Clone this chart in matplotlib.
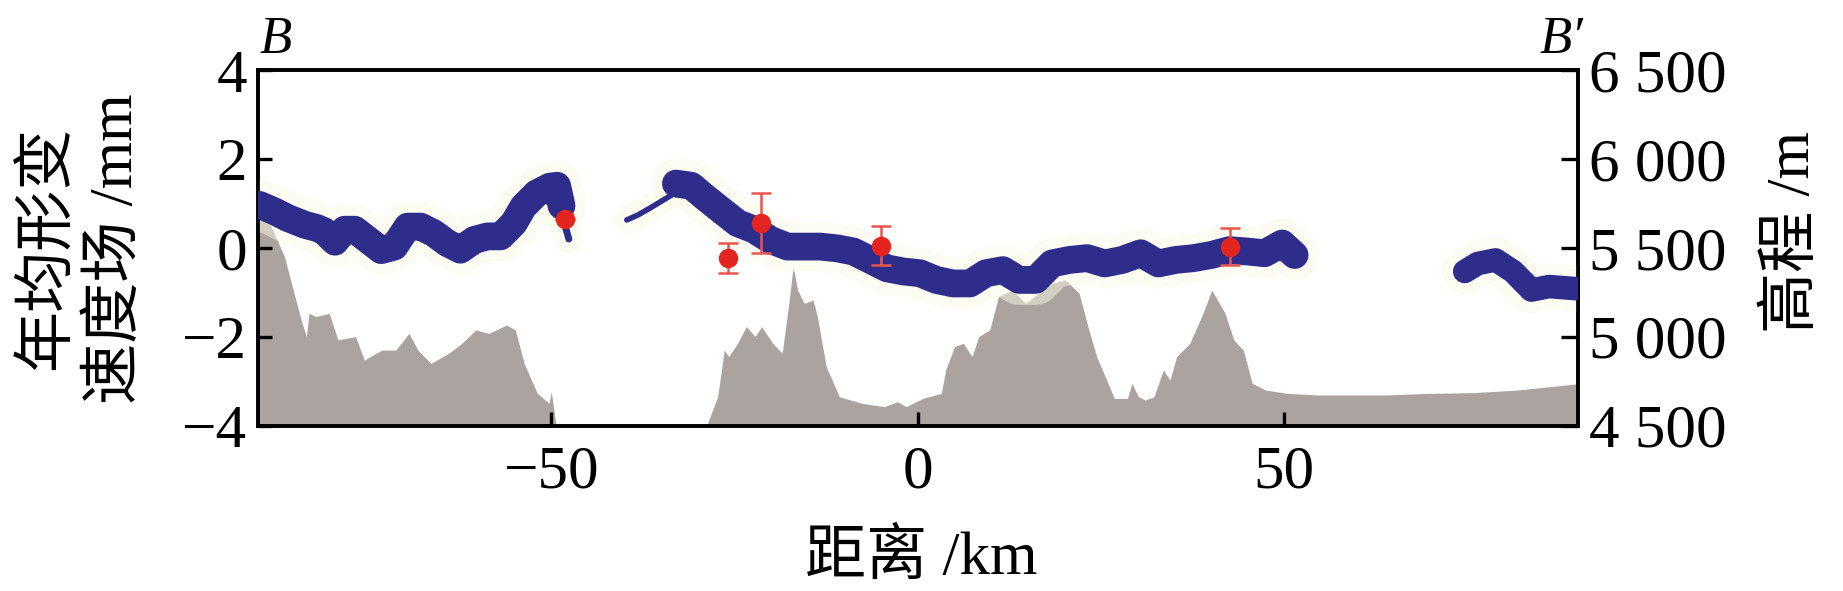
import matplotlib
matplotlib.use("Agg")
import matplotlib.pyplot as plt
import numpy as np

# ---------------- data ----------------
# elevation profile (distance km, elevation m)
elev_x = [-90.0, -88.8, -87.6, -86.4, -85.2, -84.0, -83.4, -83.05, -82.1, -80.3, -79.1, -76.7,
          -75.5, -73.1, -71.2, -69.4, -68.2, -66.4, -64.0, -62.2, -60.3, -58.5, -56.1, -54.9,
          -53.7, -51.9, -50.3, -50.0, -49.4, -49.0, -28.8, -27.3, -26.4, -25.8, -24.6, -23.4,
          -22.2, -21.3, -19.8, -18.5, -17.6, -17.0, -16.4, -15.5, -14.3, -13.7, -12.5, -10.7,
          -7.6, -4.6, -2.8, -1.6, 0.7, 3.2, 3.8, 5.0, 6.2, 7.4, 8.3, 9.8, 11.0, 12.9, 14.7,
          15.9, 18.3, 20.1, 22.0, 23.2, 24.4, 26.8, 28.6, 29.2, 30.1, 31.0, 32.2, 33.5, 34.4,
          35.3, 37.1, 38.9, 40.1, 41.9, 43.1, 44.4, 45.6, 47.4, 50.4, 54.6, 63.7, 69.8, 75.8,
          81.9, 90.0]
elev_m = [5690, 5677, 5564, 5451, 5263, 5076, 5001, 5132, 5113, 5132, 4982, 5001,
          4869, 4925, 4925, 5019, 4925, 4850, 4907, 4963, 5038, 5019, 5066, 5038,
          4850, 4681, 4625, 4691, 4516, 4500, 4500, 4662, 4925, 4888, 4963, 5057,
          5001, 5057, 4963, 4907, 5188, 5395, 5263, 5188, 5207, 5113, 4832, 4662,
          4625, 4606, 4634, 4606, 4653, 4681, 4813, 4944, 4963, 4888, 5001, 5038, 5226, 5263, 5188,
          5226, 5301, 5320, 5245, 5057, 4888, 4653, 4653, 4738, 4662, 4644, 4662, 4813, 4756,
          4888, 4963, 5132, 5263, 5132, 4982, 4925, 4738, 4700, 4681, 4672, 4672, 4681, 4685,
          4700, 4735]

# annual deformation velocity (mm) along the profile, separate segments
seg1_x = [-89.8, -87.7, -85.9, -83.6, -82.0, -81.0, -79.5, -78.2, -76.8, -75.0, -73.2, -71.4,
          -69.6, -67.8, -66.0, -64.2, -62.4, -60.5, -58.7, -56.9, -55.1, -53.8, -52.0, -50.2,
          -49.2, -48.6]
seg1_v = [0.97, 0.82, 0.67, 0.52, 0.45, 0.38, 0.14, 0.41, 0.41, 0.18, -0.05, 0.03,
          0.48, 0.48, 0.33, 0.11, -0.04, 0.18, 0.26, 0.26, 0.56, 0.93, 1.23, 1.38,
          1.40, 0.95]
tail_x = [-48.8, -48.2, -47.6]
tail_v = [0.95, 0.55, 0.20]
seg2_x = [-39.7, -38.2, -36.5, -35.0, -33.6]
seg2_v = [0.63, 0.74, 0.90, 1.05, 1.19]
seg3_x = [-33.0, -30.9, -29.1, -26.9, -24.6, -22.3, -20.1, -17.8, -15.6, -13.3, -11.0, -8.8,
          -6.5, -4.2, -2.0, 0.3, 2.5, 4.8, 7.1, 9.3, 11.6, 13.8, 16.1, 18.3, 20.7, 23.1,
          25.5, 27.9, 30.4, 32.8, 35.2, 37.6, 40.0, 42.5, 44.9, 47.3, 49.7, 51.4]
seg3_v = [1.45, 1.40, 1.15, 0.86, 0.56, 0.41, 0.18, 0.03, 0.03, 0.03, -0.01, -0.08,
          -0.27, -0.46, -0.53, -0.57, -0.72, -0.80, -0.80, -0.57, -0.50, -0.72, -0.72, -0.35, -0.27, -0.23,
          -0.35, -0.27, -0.12, -0.35, -0.27, -0.23, -0.16, -0.05, -0.08, -0.12, 0.10, -0.16]
seg4_x = [74.6, 76.4, 78.8, 81.2, 83.7, 86.1, 90.0]
seg4_v = [-0.53, -0.35, -0.27, -0.53, -0.95, -0.87, -0.92]

# leveling / GNSS check points with error bars
pt_x = [-48.1, -25.9, -21.4, -5.0, 42.6]
pt_v = [0.65, -0.23, 0.56, 0.05, 0.03]
pt_err = [0.0, 0.33, 0.68, 0.44, 0.41]

x_ticks = [-50, 0, 50]
v_ticks = [-4, -2, 0, 2, 4]
elev_ticks = [4500, 5000, 5500, 6000, 6500]
elev_tick_labels = ["4 500", "5 000", "5 500", "6 000", "6 500"]

# ---------------- plot ----------------
SERIF = ["Liberation Serif", "Noto Sans CJK SC"]
plt.rcParams["font.family"] = SERIF
plt.rcParams["axes.unicode_minus"] = True

fig = plt.figure(figsize=(18.43, 5.91), dpi=100)
ax = fig.add_axes([0.140, 0.280, 0.716, 0.601])
ax2 = ax.twinx()

BLUE = "#2f2d8c"
GRAY = "#aaa39f"
RED = "#e4241f"

ax2.fill_between(elev_x, 4500, elev_m, color=GRAY, linewidth=0, zorder=1)
ax2.set_ylim(4500, 6500)
ax2.set_yticks(elev_ticks)
ax2.set_yticklabels(elev_tick_labels)

ax.set_zorder(ax2.get_zorder() + 1)
ax.patch.set_visible(False)

segments = [(seg1_x, seg1_v, 20), (tail_x, tail_v, 5), (seg2_x, seg2_v, 4),
            (seg3_x, seg3_v, 20), (seg4_x, seg4_v, 17)]
for sx, sv, lw in segments:
    ax.plot(sx, sv, color="#fcfae6", lw=lw + 16, solid_capstyle="round",
            solid_joinstyle="round", alpha=0.5, zorder=2)
for sx, sv, lw in segments:
    ax.plot(sx, sv, color=BLUE, lw=lw, solid_capstyle="round",
            solid_joinstyle="round", zorder=3)

ax.errorbar(pt_x, pt_v, yerr=pt_err, fmt="o", color=RED, ecolor="#e8554c",
            markersize=13, elinewidth=1.8, capsize=7, capthick=1.8, zorder=5)

ax.set_xlim(-90, 90)
ax.set_ylim(-4, 4)
ax.set_xticks(x_ticks)
ax.set_yticks(v_ticks)

for a in (ax, ax2):
    for sp in a.spines.values():
        sp.set_linewidth(2.6)
ax.tick_params(axis="both", direction="in", length=10, width=2.4, labelsize=44, pad=8)
ax.tick_params(axis="x", pad=14)
ax2.tick_params(axis="y", direction="in", length=12, width=2.4, labelsize=44, pad=8)

fig.text(0.0445, 0.580, "年均形变\n速度场 /mm", rotation=90, ha="center", va="center",
         fontsize=44, linespacing=1.25, family=SERIF)
fig.text(0.973, 0.607, "高程 /m", rotation=90, ha="center", va="center",
         fontsize=44, family=SERIF)
fig.text(0.500, 0.056, "距离 /km", ha="center", va="center", fontsize=44, family=SERIF)
fig.text(0.141, 0.910, "B", ha="left", va="baseline", fontsize=38, style="italic", family=SERIF)
fig.text(0.859, 0.910, "B\u2032", ha="right", va="baseline", fontsize=38, style="italic", family=SERIF)

fig.savefig("out.png", dpi=100)
